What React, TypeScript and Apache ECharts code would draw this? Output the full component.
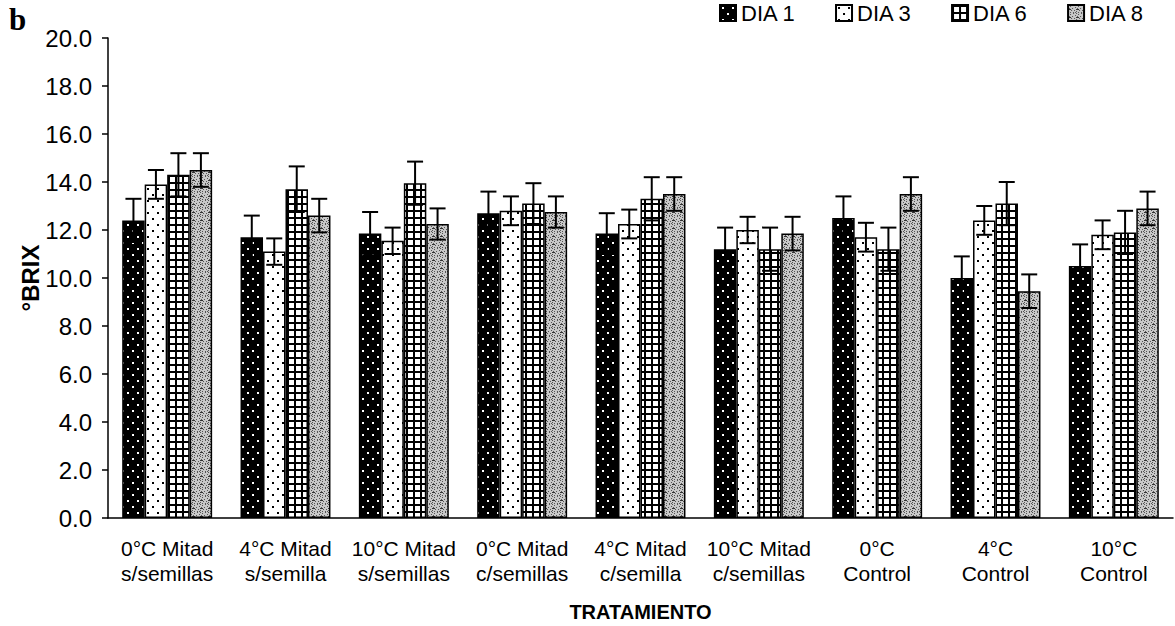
import React, { useEffect, useRef } from "react";
import * as echarts from "echarts";

const categories = [
  "0°C Mitad\ns/semillas",
  "4°C Mitad\ns/semilla",
  "10°C Mitad\ns/semillas",
  "0°C Mitad\nc/semillas",
  "4°C Mitad\nc/semilla",
  "10°C Mitad\nc/semillas",
  "0°C\nControl",
  "4°C\nControl",
  "10°C\nControl",
];

const seriesNames = ["DIA 1", "DIA 3", "DIA 6", "DIA 8"];

const dia1 = [12.4, 11.7, 11.85, 12.7, 11.85, 11.2, 12.5, 10.0, 10.5];
const dia3 = [13.9, 11.1, 11.55, 12.8, 12.25, 12.0, 11.7, 12.4, 11.8];
const dia6 = [14.3, 13.7, 13.95, 13.1, 13.3, 11.2, 11.2, 13.1, 11.9];
const dia8 = [14.5, 12.6, 12.25, 12.75, 13.5, 11.85, 13.5, 9.45, 12.9];

const err1 = [0.9, 0.9, 0.9, 0.9, 0.85, 0.9, 0.9, 0.9, 0.9];
const err3 = [0.6, 0.55, 0.55, 0.6, 0.6, 0.55, 0.6, 0.6, 0.6];
const err6 = [0.9, 0.95, 0.9, 0.85, 0.9, 0.9, 0.9, 0.9, 0.9];
const err8 = [0.7, 0.7, 0.65, 0.65, 0.7, 0.7, 0.7, 0.7, 0.7];

const yTicks = [0, 2, 4, 6, 8, 10, 12, 14, 16, 18, 20];

function makePattern(kind: number): HTMLCanvasElement {
  const c = document.createElement("canvas");
  const ctx = c.getContext("2d")!;
  if (kind === 0) {
    c.width = 10; c.height = 12;
    ctx.fillStyle = "#000"; ctx.fillRect(0, 0, 10, 12);
    ctx.fillStyle = "#fff";
    ctx.fillRect(2, 2, 2, 2);
    ctx.fillRect(7, 8, 2, 2);
  } else if (kind === 1) {
    c.width = 10; c.height = 12;
    ctx.fillStyle = "#fff"; ctx.fillRect(0, 0, 10, 12);
    ctx.fillStyle = "#000";
    ctx.fillRect(2, 2, 2, 2);
    ctx.fillRect(7, 8, 2, 2);
  } else if (kind === 2) {
    c.width = 7; c.height = 7;
    ctx.fillStyle = "#000"; ctx.fillRect(0, 0, 7, 7);
    ctx.fillStyle = "#fff"; ctx.fillRect(2, 2, 5, 5);
  } else {
    c.width = 8; c.height = 8;
    ctx.fillStyle = "#c8c8c8"; ctx.fillRect(0, 0, 8, 8);
    ctx.fillStyle = "#555";
    const pts = [[0,0],[2,1],[5,0],[7,2],[1,3],[4,3],[6,5],[3,5],[0,6],[5,7],[2,7],[7,7]];
    pts.forEach(([x, y]) => ctx.fillRect(x, y, 1, 1));
    ctx.fillStyle = "#333";
    ctx.fillRect(0, 4, 3, 1);
  }
  return c;
}

export default function App() {
  const ref = useRef<HTMLDivElement>(null);
  useEffect(() => {
    document.body.style.margin = "0";
    const chart = echarts.init(ref.current!, undefined, { renderer: "svg" });
    const values = [dia1, dia3, dia6, dia8];
    const errs = [err1, err3, err6, err8];
    const errData: number[][] = [];
    values.forEach((arr, k) =>
      arr.forEach((v, i) => errData.push([i, k, v, errs[k][i]]))
    );
    const font = "'Liberation Sans', Arial, sans-serif";
    const barSeries = values.map((arr, k) => ({
      name: seriesNames[k],
      type: "bar",
      data: arr,
      barGap: "0%",
      barCategoryGap: "24%",
      itemStyle: {
        color: { image: makePattern(k), repeat: "repeat" },
        borderColor: "#000",
        borderWidth: 1.5,
      },
    }));
    chart.setOption({
      animation: false,
      backgroundColor: "#fff",
      textStyle: { fontFamily: font, color: "#000" },
      legend: {
        data: seriesNames,
        left: 719,
        top: 2,
        padding: 0,
        itemWidth: 16,
        itemHeight: 16,
        itemGap: 39,
        icon: "rect",
        textStyle: { fontSize: 22, color: "#000", fontFamily: font },
      },
      grid: {
        left: 108,
        right: 2,
        top: 38,
        bottom: 108,
        containLabel: false,
        outerBoundsMode: "none",
      },
      xAxis: {
        type: "category",
        data: categories,
        name: "TRATAMIENTO",
        nameLocation: "middle",
        nameGap: 84,
        nameMoveOverlap: false,
        nameTextStyle: { fontSize: 20, fontWeight: "bold", color: "#000", fontFamily: font },
        axisLine: { lineStyle: { color: "#000", width: 1.5 } },
        axisTick: { length: 6, lineStyle: { color: "#000", width: 1.5 } },
        axisLabel: { fontSize: 21, color: "#000", lineHeight: 25, margin: 18, interval: 0, fontFamily: font },
      },
      yAxis: {
        type: "value",
        min: 0,
        max: 20,
        interval: 2,
        name: "°BRIX",
        nameLocation: "middle",
        nameGap: 66,
        nameMoveOverlap: false,
        nameRotate: 90,
        nameTextStyle: { fontSize: 24, fontWeight: "bold", color: "#000", fontFamily: font },
        axisLine: { show: true, lineStyle: { color: "#000", width: 1.5 } },
        axisTick: { show: true, length: 6, lineStyle: { color: "#000", width: 1.5 } },
        splitLine: { show: false },
        axisLabel: {
          fontSize: 24,
          color: "#000",
          margin: 16,
          fontFamily: font,
          formatter: (v: number) => (yTicks.includes(v) ? v.toFixed(1) : ""),
        },
      },
      graphic: [
        {
          type: "text",
          left: 9,
          top: 4,
          style: { text: "b", fontSize: 31, fontWeight: "bold", fontFamily: "'Liberation Serif', 'Times New Roman', serif", fill: "#000" },
        },
      ],
      series: [
        ...barSeries,
        {
          type: "custom",
          name: "err",
          z: 5,
          data: errData,
          encode: { x: 0, y: 2 },
          renderItem: (params: any, api: any) => {
            const cat = api.value(0);
            const k = api.value(1);
            const v = api.value(2);
            const e = api.value(3);
            const c = api.coord([cat, v]);
            const catW = api.size([1, 0])[0];
            const barW = (catW * 0.76) / 4;
            const x = c[0] + (k - 1.5) * barW;
            const top = api.coord([cat, v + e])[1];
            const bot = api.coord([cat, v - e])[1];
            const h = 8;
            const st = { stroke: "#000", lineWidth: 2 };
            return {
              type: "group",
              children: [
                { type: "line", shape: { x1: x, y1: top, x2: x, y2: bot }, style: st },
                { type: "line", shape: { x1: x - h, y1: top, x2: x + h, y2: top }, style: st },
                { type: "line", shape: { x1: x - h, y1: bot, x2: x + h, y2: bot }, style: st },
              ],
            };
          },
        },
      ],
    });
    return () => chart.dispose();
  }, []);
  return <div ref={ref} style={{ width: 1175, height: 626 }} />;
}
